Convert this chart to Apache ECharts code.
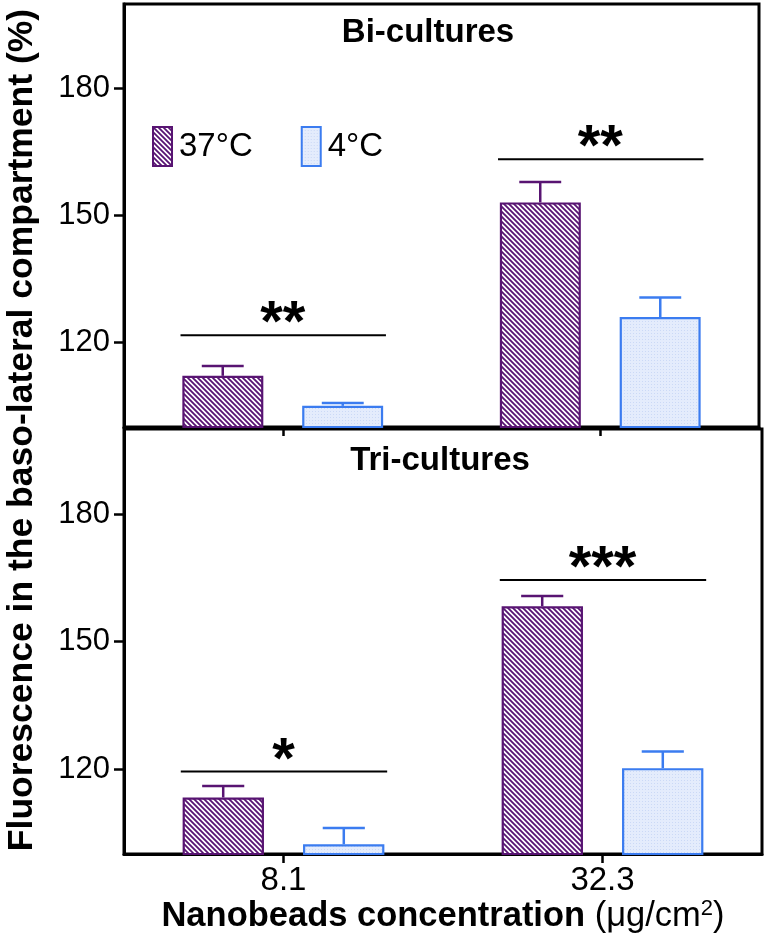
<!DOCTYPE html>
<html><head><meta charset="utf-8">
<script src="https://cdn.jsdelivr.net/npm/echarts@6/dist/echarts.min.js"></script>
<style>html,body{margin:0;padding:0;background:#fff}#c{width:766px;height:950px}</style>
</head><body><div id="c"></div>
<script>
// ---- data ----
const categories = ['8.1', '32.3'];
const seriesNames = ['37°C', '4°C'];
const biWarm = [112.1, 153.1];
const biWarmErr = [2.3, 4.8];
const biCold = [105.0, 126.0];
const biColdErr = [0.7, 4.6];
const triWarm = [113.3, 158.3];
const triWarmErr = [2.7, 2.4];
const triCold = [102.3, 120.2];
const triColdErr = [3.8, 3.9];
const biSigLabels = ['**', '**'];
const biSigLevel = [121.7, 163.3];
const triSigLabels = ['*', '***'];
const triSigLevel = [119.4, 164.5];
const yTicks = [120, 150, 180];
const panelTitles = ['Bi-cultures', 'Tri-cultures'];
const yTitle = 'Fluorescence in the baso-lateral compartment (%)';

// ---- styles ----
const FONT = '"Liberation Sans", Arial, Helvetica, sans-serif';
const PURPLE = '#581472';
const BLUE = '#3b7cf0';

function hatchPattern() {
  const s = 5, c = document.createElement('canvas');
  c.width = s; c.height = s;
  const g = c.getContext('2d');
  g.fillStyle = '#ffffff'; g.fillRect(0, 0, s, s);
  g.strokeStyle = PURPLE; g.lineWidth = 1.8;
  g.beginPath();
  g.moveTo(-1, -1); g.lineTo(s + 1, s + 1);
  g.moveTo(-1, s - 1); g.lineTo(1, s + 1);
  g.moveTo(s - 1, -1); g.lineTo(s + 1, 1);
  g.stroke();
  return { image: c, repeat: 'repeat' };
}
function dotPattern() {
  const s = 3, c = document.createElement('canvas');
  c.width = s; c.height = s;
  const g = c.getContext('2d');
  g.fillStyle = '#e4ecfc'; g.fillRect(0, 0, s, s);
  g.fillStyle = '#cbd9f6'; g.fillRect(0, 0, 1, 1);
  return { image: c, repeat: 'repeat' };
}
const warmFill = hatchPattern();
const coldFill = dotPattern();

const OFFSET = 0.189, CAP = 0.066;

function barSeries(name, gi, data, fill, border) {
  return {
    type: 'bar', name: name, xAxisIndex: gi, yAxisIndex: gi, data: data,
    barWidth: '25.5%', barGap: '48%',
    itemStyle: { color: fill, borderColor: border, borderWidth: 2.2 },
    emphasis: { disabled: true }, z: 2
  };
}
function errSeries(gi, vals, errs, sign, color) {
  return {
    type: 'custom', xAxisIndex: gi, yAxisIndex: gi, silent: true, z: 3,
    data: vals.map((v, i) => [i, v, errs[i]]),
    renderItem: function (params, api) {
      const bw = api.size([1, 0])[0];
      const p = api.coord([api.value(0), api.value(1)]);
      const t = api.coord([api.value(0), api.value(1) + api.value(2)]);
      const x = p[0] + sign * bw * OFFSET;
      const hw = bw * CAP;
      return {
        type: 'group', children: [
          { type: 'line', shape: { x1: x, y1: p[1], x2: x, y2: t[1] }, style: { stroke: color, lineWidth: 2.5 } },
          { type: 'line', shape: { x1: x - hw, y1: t[1], x2: x + hw, y2: t[1] }, style: { stroke: color, lineWidth: 2.5 } }
        ]
      };
    }
  };
}
function sigSeries(gi, levels, labels) {
  return {
    type: 'custom', xAxisIndex: gi, yAxisIndex: gi, silent: true, z: 4,
    data: levels.map((v, i) => [i, v]),
    renderItem: function (params, api) {
      const bw = api.size([1, 0])[0];
      const p = api.coord([api.value(0), api.value(1)]);
      return {
        type: 'group', children: [
          { type: 'line', shape: { x1: p[0] - bw * 0.322, y1: p[1], x2: p[0] + bw * 0.325, y2: p[1] }, style: { stroke: '#000', lineWidth: 2 } },
          { type: 'text', x: p[0], y: p[1] + 19, style: { text: labels[params.dataIndex], fontSize: 58, fontWeight: 'bold', fontFamily: FONT, fill: '#000', align: 'center', verticalAlign: 'bottom' } }
        ]
      };
    }
  };
}

function xAxisCfg(gi, showLabels) {
  const a = {
    gridIndex: gi, type: 'category', data: categories,
    axisLine: { lineStyle: { color: '#000', width: 3 } },
    axisTick: { show: true, alignWithLabel: true, length: 9, lineStyle: { color: '#000', width: 2.5 } },
    axisLabel: { show: showLabels, fontSize: 33, color: '#000', fontFamily: FONT, margin: 10 },
    splitLine: { show: false }
  };
  if (showLabels) {
    a.name = '{b|Nanobeads concentration }{n|(μg/cm}{s|2}{n|)}';
    a.nameLocation = 'middle';
    a.nameGap = 42;
    a.nameTextStyle = {
      color: '#000', fontFamily: FONT,
      rich: {
        b: { fontSize: 34.5, fontWeight: 'bold', color: '#000', fontFamily: FONT, lineHeight: 38 },
        n: { fontSize: 34.5, color: '#000', fontFamily: FONT, lineHeight: 38 },
        s: { fontSize: 22, color: '#000', fontFamily: FONT, lineHeight: 22, verticalAlign: 'top' }
      }
    };
  }
  return a;
}
function yAxisCfg(gi) {
  return {
    gridIndex: gi, type: 'value', min: 100, max: 200,
    axisLine: { show: true, lineStyle: { color: '#000', width: 3 } },
    axisTick: { show: true, length: 10, customValues: yTicks, lineStyle: { color: '#000', width: 2.5 } },
    axisLabel: { customValues: yTicks, fontSize: 31, color: '#000', fontFamily: FONT, margin: 14 },
    splitLine: { show: false }
  };
}

const option = {
  animation: false,
  backgroundColor: '#fff',
  grid: [
    { left: 124, top: 4, width: 635, height: 423, show: true, borderColor: '#000', borderWidth: 3, backgroundColor: 'transparent', outerBoundsMode: 'none' },
    { left: 124, top: 429, width: 638, height: 425, show: true, borderColor: '#000', borderWidth: 3, backgroundColor: 'transparent', outerBoundsMode: 'none' }
  ],
  legend: {
    data: seriesNames, left: 147, top: 121, icon: 'rect',
    itemWidth: 19, itemHeight: 39, itemGap: 48, selectedMode: false,
    textStyle: { fontSize: 33, color: '#000', fontFamily: FONT, padding: [0, 0, 0, 2] }
  },
  xAxis: [xAxisCfg(0, false), xAxisCfg(1, true)],
  yAxis: [yAxisCfg(0), yAxisCfg(1)],
  graphic: [
    { type: 'text', x: 428, y: 33, style: { text: panelTitles[0], fontSize: 33, fontWeight: 'bold', fontFamily: FONT, fill: '#000', align: 'center', verticalAlign: 'middle' } },
    { type: 'text', x: 440, y: 461, style: { text: panelTitles[1], fontSize: 33, fontWeight: 'bold', fontFamily: FONT, fill: '#000', align: 'center', verticalAlign: 'middle' } },
    { type: 'text', x: 22, y: 430, rotation: Math.PI / 2, style: { text: yTitle, fontSize: 35.5, fontWeight: 'bold', fontFamily: FONT, fill: '#000', align: 'center', verticalAlign: 'middle' } }
  ],
  series: [
    barSeries(seriesNames[0], 0, biWarm, warmFill, PURPLE),
    barSeries(seriesNames[1], 0, biCold, coldFill, BLUE),
    barSeries(seriesNames[0], 1, triWarm, warmFill, PURPLE),
    barSeries(seriesNames[1], 1, triCold, coldFill, BLUE),
    errSeries(0, biWarm, biWarmErr, -1, PURPLE),
    errSeries(0, biCold, biColdErr, 1, BLUE),
    errSeries(1, triWarm, triWarmErr, -1, PURPLE),
    errSeries(1, triCold, triColdErr, 1, BLUE),
    sigSeries(0, biSigLevel, biSigLabels),
    sigSeries(1, triSigLevel, triSigLabels)
  ]
};
const chart = echarts.init(document.getElementById('c'), null, { renderer: 'canvas' });
chart.setOption(option);
</script>
</body></html>
